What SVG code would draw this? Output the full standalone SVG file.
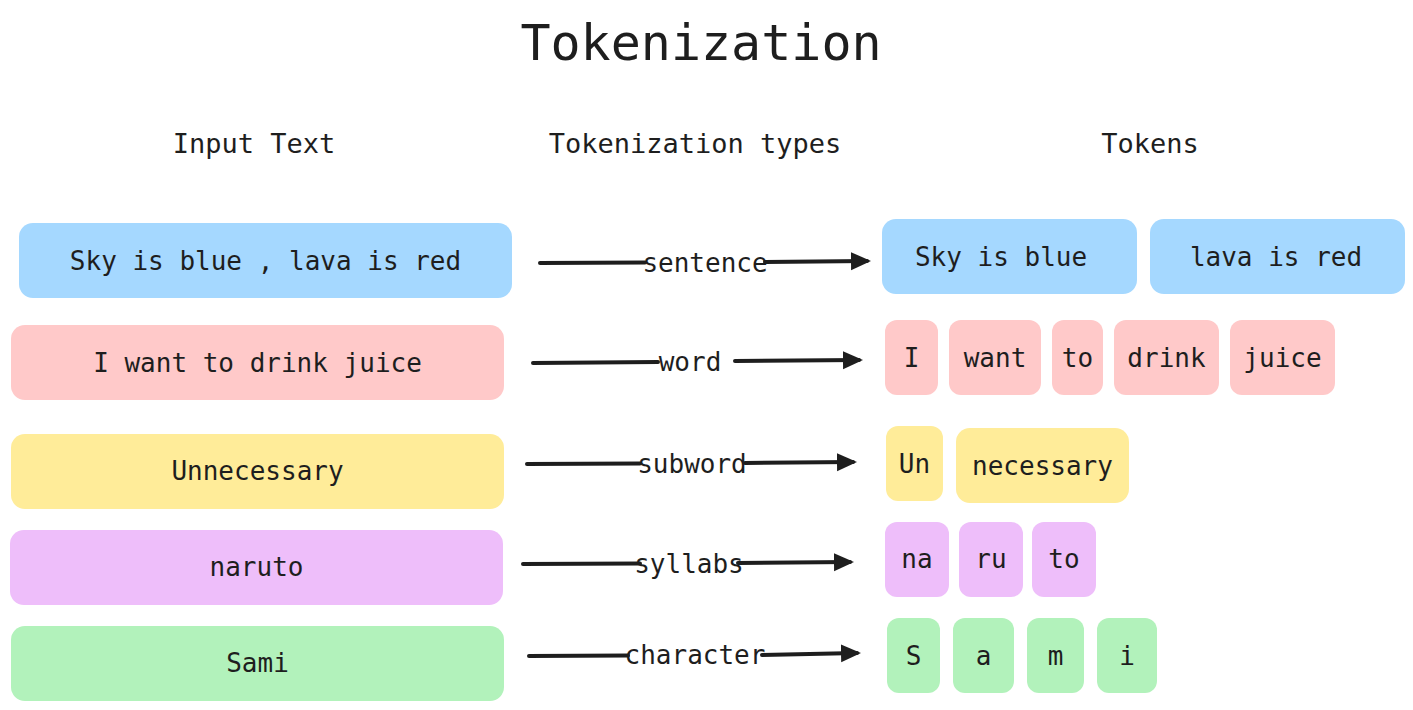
<svg xmlns="http://www.w3.org/2000/svg" width="1413" height="710" viewBox="0 0 1413 710">
<style>
text{font-family:"DejaVu Sans Mono","Liberation Mono",monospace;fill:#1e1e1e;text-anchor:middle}
.t{font-size:26px}
.h{font-size:27px}
.title{font-size:50px}
.blue{fill:#a5d8ff}.pink{fill:#ffc9c9}.yellow{fill:#ffec99}.purple{fill:#eebefa}.green{fill:#b2f2bb}
.ln{stroke:#1e1e1e;stroke-width:4;fill:none;stroke-linecap:round}
</style>
<defs>
<marker id="ah" markerUnits="userSpaceOnUse" markerWidth="22" markerHeight="20" refX="16" refY="9" orient="auto">
<path d="M0,0 L20,9 L0,18 z" fill="#1e1e1e"/>
</marker>
</defs>
<rect width="1413" height="710" fill="#ffffff"/>
<g id="title"><text class="title" x="701" y="60">Tokenization</text></g>
<g id="headers">
<text class="h" x="254" y="153">Input Text</text>
<text class="h" x="695" y="153">Tokenization types</text>
<text class="h" x="1150" y="153">Tokens</text>
</g>
<g id="in-sentence"><rect class="blue" x="19" y="223" width="493" height="75" rx="14"/><text class="t" x="265.5" y="270">Sky is blue , lava is red</text></g>
<g id="in-word"><rect class="pink" x="11" y="325" width="493" height="75" rx="14"/><text class="t" x="257.5" y="372">I want to drink juice</text></g>
<g id="in-subword"><rect class="yellow" x="11" y="434" width="493" height="75" rx="14"/><text class="t" x="257.5" y="480">Unnecessary</text></g>
<g id="in-syllabs"><rect class="purple" x="10" y="530" width="493" height="75" rx="14"/><text class="t" x="256.5" y="576">naruto</text></g>
<g id="in-character"><rect class="green" x="11" y="626" width="493" height="75" rx="14"/><text class="t" x="257.5" y="672">Sami</text></g>
<g id="connectors">
<path class="ln" d="M540,263 L645,262.5"/><path class="ln" d="M765,262 L867,261" marker-end="url(#ah)"/>
<text class="t" x="705" y="272">sentence</text>
<path class="ln" d="M533,363 L658,362"/><path class="ln" d="M735,361 L859,360" marker-end="url(#ah)"/>
<text class="t" x="690" y="371">word</text>
<path class="ln" d="M527,464 L640,463.5"/><path class="ln" d="M745,463 L853,462" marker-end="url(#ah)"/>
<text class="t" x="692" y="473">subword</text>
<path class="ln" d="M523,564 L640,563.5"/><path class="ln" d="M738,563 L850,562" marker-end="url(#ah)"/>
<text class="t" x="689" y="573">syllabs</text>
<path class="ln" d="M529,656 L628,655.5"/><path class="ln" d="M762,655 L857,653" marker-end="url(#ah)"/>
<text class="t" x="695" y="664">character</text>
</g>
<g id="tok-sky"><rect class="blue" x="882" y="219" width="255" height="75" rx="14"/><text class="t" x="1001" y="266">Sky is blue</text></g>
<g id="tok-lava"><rect class="blue" x="1150" y="219" width="255" height="75" rx="14"/><text class="t" x="1276" y="266">lava is red</text></g>
<g id="tok-I"><rect class="pink" x="885" y="320" width="53" height="75" rx="12"/><text class="t" x="911.5" y="367">I</text></g>
<g id="tok-want"><rect class="pink" x="949" y="320" width="92" height="75" rx="12"/><text class="t" x="995" y="367">want</text></g>
<g id="tok-to"><rect class="pink" x="1052" y="320" width="51" height="75" rx="12"/><text class="t" x="1077.5" y="367">to</text></g>
<g id="tok-drink"><rect class="pink" x="1114" y="320" width="105" height="75" rx="12"/><text class="t" x="1166.5" y="367">drink</text></g>
<g id="tok-juice"><rect class="pink" x="1230" y="320" width="105" height="75" rx="12"/><text class="t" x="1282.5" y="367">juice</text></g>
<g id="tok-Un"><rect class="yellow" x="886" y="426" width="57" height="75" rx="12"/><text class="t" x="914.5" y="473">Un</text></g>
<g id="tok-necessary"><rect class="yellow" x="956" y="428" width="173" height="75" rx="14"/><text class="t" x="1042.5" y="475">necessary</text></g>
<g id="tok-na"><rect class="purple" x="885" y="522" width="64" height="75" rx="12"/><text class="t" x="917" y="568">na</text></g>
<g id="tok-ru"><rect class="purple" x="959" y="522" width="64" height="75" rx="12"/><text class="t" x="991" y="568">ru</text></g>
<g id="tok-to2"><rect class="purple" x="1032" y="522" width="64" height="75" rx="12"/><text class="t" x="1064" y="568">to</text></g>
<g id="tok-S"><rect class="green" x="887" y="618" width="53" height="75" rx="12"/><text class="t" x="913.5" y="665">S</text></g>
<g id="tok-a"><rect class="green" x="953" y="618" width="61" height="75" rx="12"/><text class="t" x="983.5" y="665">a</text></g>
<g id="tok-m"><rect class="green" x="1027" y="618" width="57" height="75" rx="12"/><text class="t" x="1055.5" y="665">m</text></g>
<g id="tok-i"><rect class="green" x="1097" y="618" width="60" height="75" rx="12"/><text class="t" x="1127" y="665">i</text></g>
</svg>
